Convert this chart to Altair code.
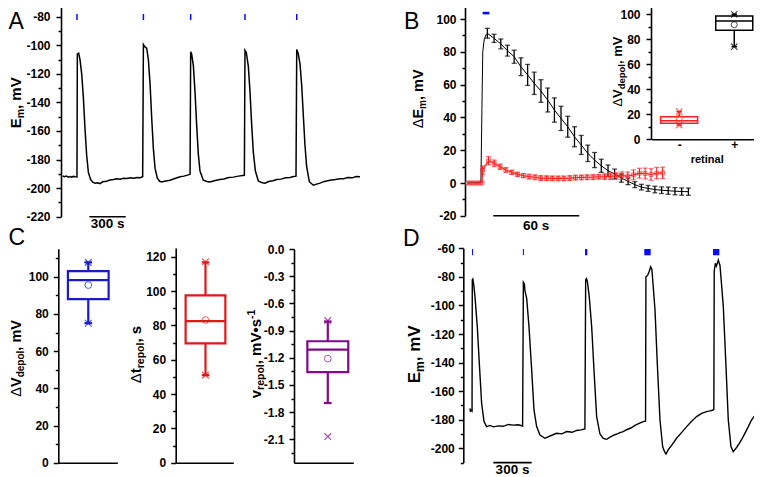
import altair as alt
import pandas as pd

W, H = 746, 469
FONT = "Liberation Sans"
STIM = "#0a0aff"
RED_B = "#ff2020"
BLUE_C = "#1a1ac8"
RED_C = "#dd1a1a"
PURPLE_C = "#800a8c"
XSHAPE = "M-1,-1L1,1M-1,1L1,-1"

# ---------------- data ----------------
# Panel A: membrane potential trace (time s, Em mV)
A_t = [0, 15, 30, 47, 62, 75, 88, 103, 118, 121,
       132, 143, 157, 171, 184, 198, 212, 231, 248, 267,
       287, 308, 330, 363, 390, 420, 446, 475, 500, 528,
       560, 590, 611, 640, 660, 666, 677, 693, 707, 721,
       734, 748, 762, 781, 800, 817, 850, 886, 920, 968,
       1000, 1030, 1051, 1056, 1064, 1078, 1092, 1105, 1119, 1133,
       1160, 1190, 1216, 1250, 1298, 1330, 1370, 1408, 1450, 1499,
       1504, 1515, 1532, 1545, 1559, 1573, 1590, 1614, 1640, 1669,
       1700, 1735, 1766, 1800, 1840, 1876, 1905, 1925, 1931, 1944,
       1958, 1972, 1986, 1999, 2013, 2035, 2068, 2095, 2123, 2160,
       2206, 2250, 2290, 2316, 2350, 2390, 2420, 2453]
A_v = [-191.5, -192.0, -191.6, -192.3, -191.9, -192.4, -191.8, -192.1, -192.2, -106.0,
       -105.5, -110, -120, -137, -158, -177, -189, -194, -195.8, -196.5,
       -196.2, -196.8, -195.6, -195.2, -194.3, -194.0, -193.5, -193.8, -193.1, -193.3,
       -192.8, -193.0, -192.5, -192.7, -192.0, -99.5, -101.0, -102.0, -110, -127,
       -150, -172, -186, -193, -195.2, -195.7, -195.0, -194.5, -193.4, -192.0,
       -191.6, -190.9, -190.3, -104.5, -106, -114, -133, -155, -176, -188,
       -194.5, -195.3, -195.7, -194.8, -194.0, -193.6, -192.6, -192.3, -191.6, -191.0,
       -103.5, -105, -115, -132, -155, -175, -188, -195, -196.0, -196.5,
       -195.4, -194.8, -194.0, -193.7, -192.8, -192.5, -191.9, -191.6, -103, -106,
       -113, -128, -150, -170, -185, -195.5, -198, -197.2, -196.5, -195.3,
       -194.5, -194.0, -193.4, -193.5, -192.6, -192.8, -191.9, -192.0]
A_stim = [118, 666, 1056, 1504, 1931]

# Panel B: mean dEm with error bars (time s, mV)
B_black_t = [0, 3, 6, 9.5, 10.2, 10.8, 11.8, 13.0,
             14.0, 18.7, 23.4, 28.0, 32.7, 37.4, 42.1, 46.7, 51.4, 56.1,
             60.8, 65.4, 70.1, 74.8, 79.5, 84.1, 88.8, 93.5, 98.2, 102.8,
             107.5, 112.2, 116.9, 121.5, 126.2, 130.9, 135.6, 140.2, 144.9, 149.6, 154.3]
B_black_v = [0, 0.2, 0.1, 0.3, 45, 80, 87.5, 90.3,
             91.3, 88.2, 84.8, 80.7, 77.0, 70.9, 65.9, 60.8, 56.1, 50.6,
             44.5, 39.4, 34.3, 28.2, 23.2, 18.1, 14.0, 10.5, 7.5, 5.5,
             3.0, 1.0, -1.0, -2.5, -3.3, -4.0, -4.4, -4.7, -5.0, -5.2, -5.3]
B_black_err = [0, 0, 0, 0, 0, 0, 0, 0,
               3.0, 2.5, 3.0, 3.3, 4.0, 5.4, 6.4, 6.8, 6.9, 7.3,
               7.4, 7.4, 6.4, 6.1, 5.8, 5.0, 4.6, 4.0, 3.5, 3.0,
               2.5, 2.0, 1.8, 1.7, 1.8, 2.0, 2.0, 2.2, 2.2, 2.2, 2.2]
B_red_t = [0, 1.5, 3, 4.5, 6, 7.5, 9, 10.3,
           10.7, 14.8, 18.8, 22.9, 26.9, 31.0, 35.0, 39.1, 43.1, 47.2,
           51.2, 55.3, 59.3, 63.4, 67.4, 71.5, 75.5, 79.6, 83.6, 87.7,
           91.7, 95.8, 99.8, 103.9, 107.9, 112.0, 116.0, 120.1, 124.1, 128.2,
           132.2, 136.3]
B_red_v = [0, 0, 0, 0, 0, 0, 0, 0,
           7.9, 13.6, 12.0, 9.9, 7.9, 6.5, 5.3, 4.5, 3.9, 3.5,
           3.0, 2.9, 2.8, 2.8, 2.8, 3.0, 3.3, 3.4, 3.5, 3.6,
           3.8, 3.9, 4.1, 4.3, 4.5, 4.2, 5.0, 6.0, 5.8, 5.2,
           6.0, 6.2]
B_red_err = [0, 0, 0, 0, 0, 0, 0, 0,
             2.5, 2.5, 2.0, 1.7, 1.5, 1.3, 1.3, 1.3, 1.5, 1.5,
             1.5, 1.5, 1.5, 1.5, 1.5, 1.5, 1.5, 1.5, 1.5, 1.5,
             1.5, 1.7, 2.0, 2.0, 2.3, 2.5, 3.0, 3.0, 3.3, 3.5,
             3.5, 3.5]
B_stim = [10.7, 15.4]

# Panel B inset: dV_depol box plots for retinal - / +
INSET_CAT = ["-", "+"]
INSET_Q1 = [12.8, 87.2]
INSET_Q3 = [18.1, 98.6]
INSET_MED = [14.9, 94.6]
INSET_MEAN = [16.8, 91.7]
INSET_LO = [11.4, 74.1]
INSET_HI = [22.1, 100.0]
INSET_X = [[11.4, 22.1], [74.1, 100.0]]

# Panel C: box plots  (dV_depol mV, dt_repol s, v_repol mV/s)
C_Q1 = [87.9, 69.5, -1.358]
C_Q3 = [103.0, 97.5, -1.018]
C_MED = [98.2, 82.5, -1.11]
C_MEAN = [95.5, 83.1, -1.21]
C_LO = [75.0, 51.0, -1.70]
C_HI = [107.7, 116.7, -0.80]
C_X = [[75.0, 107.7], [51.0, 117.0], [-0.79, -2.07]]

# Panel D: trace (time s, Em mV)
D_t = [0, 3, 10, 16, 18, 22, 30, 39, 57, 73,
       91, 110, 130, 157, 183, 222, 261, 300, 339, 378,
       412, 418, 426, 431, 444, 462, 483, 501, 522, 548,
       587, 626, 679, 720, 757, 800, 835, 870, 900, 906,
       912, 919, 934, 953, 971, 992, 1018, 1044, 1070, 1100,
       1122, 1150, 1175, 1200, 1227, 1260, 1292, 1325, 1357, 1375,
       1378, 1391, 1404, 1415, 1425, 1449, 1467, 1488, 1509, 1522,
       1535, 1553, 1579, 1618, 1657, 1697, 1736, 1775, 1814, 1853,
       1880, 1905, 1910, 1913, 1922, 1930, 1945, 1958, 1970, 1984,
       2004, 2023, 2044, 2062, 2083, 2101, 2127, 2153, 2179, 2205,
       2239, 2271]
D_v = [-172, -174, -173.5, -174, -82, -81.5, -86, -93.8, -114.8, -140.5,
       -168.5, -181.3, -184.8, -184, -185, -184.3, -184.6, -183.3, -183.8, -183.5,
       -184.4, -83.8, -85, -90, -95, -114.8, -145, -173, -184.8, -190.7,
       -193, -191.4, -189.5, -189.9, -188.3, -188.8, -187.5, -187.1, -186.5, -82.2,
       -81.3, -83, -93.8, -114.8, -145, -177.8, -190, -193, -193.7, -192,
       -191, -190, -189, -188.3, -187, -185.8, -184, -182.6, -181.3, -181,
       -80, -79, -76, -72.9, -75, -103, -140.5, -180, -198.8, -202,
       -204, -201, -198, -193, -189, -184.8, -181, -177.8, -175.5, -174.3,
       -173.8, -173.2, -172.6, -76, -70.5, -72.5, -68.2, -72, -85, -100.8,
       -140.5, -180, -198.8, -202.3, -200, -197.7, -194, -189.5, -185, -180.2,
       -176, -173.2]
D_stim_start = [16, 414, 901, 1365, 1903]
D_stim_end = [24, 422, 919, 1415, 1953]

# ---------------- helpers ----------------
def sx(d0, d1, p0, v0, ppu):
    return alt.Scale(domain=[d0, d1], range=[p0 + (d0 - v0) * ppu, p0 + (d1 - v0) * ppu],
                     nice=False, zero=False)


def sy(d0, d1, p0, v0, ppu):
    return alt.Scale(domain=[d0, d1], range=[p0 - (d0 - v0) * ppu, p0 - (d1 - v0) * ppu],
                     nice=False, zero=False)


def X(f, s):
    return alt.X(f + ":Q", scale=s, axis=None)


def Y(f, s):
    return alt.Y(f + ":Q", scale=s, axis=None)


def yaxis(scale, xpx, major, minor, pad=5, expr="'' + datum.value"):
    d = pd.DataFrame({"v": [major[0]]})
    common = dict(orient="left", offset=-xpx, title=None, grid=False, tickColor="black",
                  tickWidth=1.5)
    maj = alt.Chart(d).mark_point(opacity=0).encode(
        y=alt.Y("v:Q", scale=scale, axis=alt.Axis(
            values=major, labelExpr=expr, tickSize=5, domainColor="black", domainWidth=1.6,
            labelFont=FONT, labelFontWeight="bold", labelFontSize=12, labelColor="black",
            labelPadding=pad, labelOverlap=False, labelFlush=False, **common)))
    mnr = alt.Chart(d).mark_point(opacity=0).encode(
        y=alt.Y("v:Q", scale=scale, axis=alt.Axis(
            values=minor, labels=False, domain=False, tickSize=3, **common)))
    return [maj, mnr]


def xline(scale, ypx):
    d = pd.DataFrame({"u": [0.5]})
    return alt.Chart(d).mark_point(opacity=0).encode(
        x=alt.X("u:Q", scale=scale, axis=alt.Axis(
            orient="bottom", offset=ypx - H, ticks=False, labels=False, title=None, grid=False,
            domainColor="black", domainWidth=1.6)))


def box(xs, ys, cx, hw, capw, q1, q3, med, mean, lo, hi, xmarks, color, sw, msx, msc):
    d = pd.DataFrame({"x0": [cx - hw], "x1": [cx + hw], "cx": [cx], "c0": [cx - capw],
                      "c1": [cx + capw], "q1": [q1], "q3": [q3], "med": [med], "mean": [mean],
                      "lo": [lo], "hi": [hi]})
    b = alt.Chart(d)
    out = [
        b.mark_rect(fill="transparent", stroke=color, strokeWidth=sw).encode(
            x=X("x0", xs), x2="x1", y=Y("q1", ys), y2="q3"),
        b.mark_rule(color=color, strokeWidth=sw).encode(x=X("x0", xs), x2="x1", y=Y("med", ys)),
        b.mark_rule(color=color, strokeWidth=sw).encode(x=X("cx", xs), y=Y("q3", ys), y2="hi"),
        b.mark_rule(color=color, strokeWidth=sw).encode(x=X("cx", xs), y=Y("lo", ys), y2="q1"),
        b.mark_rule(color=color, strokeWidth=sw).encode(x=X("c0", xs), x2="c1", y=Y("hi", ys)),
        b.mark_rule(color=color, strokeWidth=sw).encode(x=X("c0", xs), x2="c1", y=Y("lo", ys)),
        b.mark_point(shape="circle", filled=False, color=color, size=msc, strokeWidth=1).encode(
            x=X("cx", xs), y=Y("mean", ys)),
    ]
    dx = pd.DataFrame({"cx": [cx] * len(xmarks), "v": xmarks})
    out.append(alt.Chart(dx).mark_point(shape=XSHAPE, filled=False, color=color, size=msx,
                                        strokeWidth=1.2).encode(x=X("cx", xs), y=Y("v", ys)))
    return out


def scalebar(xs, ys, t0, t1, yv, label, ybase):
    d = pd.DataFrame({"a": [t0], "b": [t1], "y": [yv], "m": [(t0 + t1) / 2], "lab": [label]})
    return [
        alt.Chart(d).mark_rule(color="black", strokeWidth=1.6).encode(
            x=X("a", xs), x2="b", y=Y("y", ys)),
        alt.Chart(d).mark_text(font=FONT, fontWeight="bold", fontSize=13.5, align="center",
                               baseline="alphabetic", color="black").encode(
            x=X("m", xs), y=alt.value(ybase), text="lab:N"),
    ]


CW_B = {"E": .667, "m": .889, ",": .278, " ": .278, "V": .667, "d": .611, "e": .556, "p": .611,
        "o": .611, "l": .278, "t": .333, "r": .389, "s": .556, "v": .556, "\u2022": .35, "-": .333,
        "1": .556}
CW_R = {"\u0394": .668}


def rot_title(xb, ys, pieces):
    rows = []
    y = ys
    for text, size, weight, shift in pieces:
        tbl = CW_B if weight == "bold" else CW_R
        rows.append({"x": xb + shift, "y": y, "t": text, "s": size, "w": weight})
        y -= sum(tbl.get(c, .56) for c in text) * size
    return rows


layers = []

# ---------------- Panel A ----------------
AX = sx(0, 2453, 54.67, 0, 1 / 8.25)
AY = sy(-220, -72, 208.7, -220, 1.4286)
layers += yaxis(AY, 53, [-220, -200, -180, -160, -140, -120, -100, -80],
                [-210, -190, -170, -150, -130, -110, -90], pad=6)
dA = pd.DataFrame({"t": A_t, "v": A_v})
layers.append(alt.Chart(dA).mark_line(color="black", strokeWidth=1.5).encode(
    x=X("t", AX), y=Y("v", AY), order="t:Q"))
dAs = pd.DataFrame({"t": A_stim, "a": [-78.1] * 5, "b": [-82.3] * 5})
layers.append(alt.Chart(dAs).mark_rule(color=STIM, strokeWidth=1.5).encode(
    x=X("t", AX), y=Y("a", AY), y2="b"))
layers += scalebar(AX, AY, 220, 520, -220, "300 s", 220.3)

# ---------------- Panel B ----------------
BX = sx(-2, 200, 459.3, 0, 1.433)
BY = sy(-20, 110, 175, 0, 1.64)
layers += yaxis(BY, 457, [-20, 0, 20, 40, 60, 80, 100], [-10, 10, 30, 50, 70, 90], pad=4)
dBk = pd.DataFrame({"t": B_black_t, "v": B_black_v, "e": B_black_err})
dBk["lo"] = dBk["v"] - dBk["e"]
dBk["hi"] = dBk["v"] + dBk["e"]
dBke = dBk[dBk["e"] > 0]
layers.append(alt.Chart(dBk).mark_line(color="black", strokeWidth=1).encode(
    x=X("t", BX), y=Y("v", BY), order="t:Q"))
layers.append(alt.Chart(dBke).mark_rule(color="black", strokeWidth=1.3).encode(
    x=X("t", BX), y=Y("lo", BY), y2="hi"))
for f in ["lo", "hi"]:
    layers.append(alt.Chart(dBke).mark_tick(orient="horizontal", size=5, thickness=1.3,
                                           color="black").encode(x=X("t", BX), y=Y(f, BY)))
dBr = pd.DataFrame({"t": B_red_t, "v": B_red_v, "e": B_red_err})
dBr["lo"] = dBr["v"] - dBr["e"]
dBr["hi"] = dBr["v"] + dBr["e"]
dBre = dBr[dBr["e"] > 0]
layers.append(alt.Chart(dBr).mark_line(color=RED_B, strokeWidth=1.2).encode(
    x=X("t", BX), y=Y("v", BY), order="t:Q"))
layers.append(alt.Chart(dBre).mark_rule(color=RED_B, strokeWidth=1.1).encode(
    x=X("t", BX), y=Y("lo", BY), y2="hi"))
for f in ["lo", "hi"]:
    layers.append(alt.Chart(dBre).mark_tick(orient="horizontal", size=5, thickness=1.1,
                                           color=RED_B).encode(x=X("t", BX), y=Y(f, BY)))
layers.append(alt.Chart(dBr).mark_point(shape="square", filled=False, size=14, color=RED_B,
                                        strokeWidth=1).encode(x=X("t", BX), y=Y("v", BY)))
dBs = pd.DataFrame({"a": [B_stim[0]], "b": [B_stim[1]], "y": [103.6]})
layers.append(alt.Chart(dBs).mark_rule(color=STIM, strokeWidth=2.6).encode(
    x=X("a", BX), x2="b", y=Y("y", BY)))
layers += scalebar(BX, BY, 18.1, 78.1, -20, "60 s", 222)

# inset
IX = alt.Scale(domain=[0, 2], range=[643.6, 753.8], nice=False, zero=False)
IY = sy(0, 110, 131.3, 0, 1.25)
layers += yaxis(IY, 643, [0, 20, 40, 60, 80, 100], [10, 30, 50, 70, 90], pad=6)
layers.append(alt.Chart(pd.DataFrame({"u": [0.5]})).mark_point(opacity=0).encode(
    x=alt.X("u:Q", scale=IX, axis=alt.Axis(
        orient="bottom", offset=131.3 - H, values=[0.5, 1.5],
        labelExpr="datum.value < 1 ? '" + INSET_CAT[0] + "' : '" + INSET_CAT[1] + "'",
        ticks=False, grid=False, domainColor="black", domainWidth=1.6, labelFont=FONT,
        labelFontWeight="bold", labelFontSize=12, labelColor="black", labelPadding=0,
        labelFlush=False, title="retinal", titleFont=FONT, titleFontWeight="bold",
        titleFontSize=11, titleColor="black", titlePadding=3))))
for i, col in enumerate(["#ff2020", "black"]):
    layers += box(IX, IY, 0.5 + i, 0.336, 0.05, INSET_Q1[i], INSET_Q3[i], INSET_MED[i],
                  INSET_MEAN[i], INSET_LO[i], INSET_HI[i], INSET_X[i], col, 1.5, 40, 36)

# ---------------- Panel C ----------------
C1X = alt.Scale(domain=[0, 1], range=[50.3, 109.3], nice=False, zero=False)
C1Y = sy(0, 115, 454.7, 0, 1.86)
C2X = alt.Scale(domain=[0, 1], range=[167.7, 225.3], nice=False, zero=False)
C2Y = sy(0, 125, 454.7, 0, 1.7167)
C3X = alt.Scale(domain=[0, 1], range=[286, 345.3], nice=False, zero=False)
C3Y = sy(-2.36, 0, 241, 0, 90.62)
layers += yaxis(C1Y, 50.3, [0, 20, 40, 60, 80, 100], [10, 30, 50, 70, 90, 110])
layers += yaxis(C2Y, 167.7, [0, 20, 40, 60, 80, 100, 120], [10, 30, 50, 70, 90, 110])
layers += yaxis(C3Y, 286, [0.0, -0.3, -0.6, -0.9, -1.2, -1.5, -1.8, -2.1],
                [-0.15, -0.45, -0.75, -1.05, -1.35, -1.65, -1.95, -2.25],
                expr="datum.value == 0 ? '0.0' : '' + datum.value")
layers += [xline(C1X, 454.7), xline(C2X, 454.7), xline(C3X, 454.7)]
CPOS = [(C1X, C1Y, 0.508), (C2X, C2Y, 0.517), (C3X, C3Y, 0.57)]
CCOL = [BLUE_C, RED_C, PURPLE_C]
for i in range(3):
    xs, ys, cx = CPOS[i]
    layers += box(xs, ys, cx, 0.345, 0.065, C_Q1[i], C_Q3[i], C_MED[i], C_MEAN[i], C_LO[i],
                  C_HI[i], C_X[i], CCOL[i], 2.2, 45, 45)

# ---------------- Panel D ----------------
DX = sx(-52, 2290, 462, 0, 0.12767)
DY = sy(-210, -60, 240.3, -60, 1.4286)
layers += yaxis(DY, 455.3, [-200, -180, -160, -140, -120, -100, -80, -60],
                [-210, -190, -170, -150, -130, -110, -90, -70], pad=4)
dD = pd.DataFrame({"t": D_t, "v": D_v})
layers.append(alt.Chart(dD).mark_line(color="black", strokeWidth=1.4).encode(
    x=X("t", DX), y=Y("v", DY), order="t:Q"))
dDs = pd.DataFrame({"a": D_stim_start, "b": D_stim_end, "y0": [-60.5] * 5, "y1": [-64.9] * 5})
layers.append(alt.Chart(dDs).mark_rect(color=STIM).encode(
    x=X("a", DX), x2="b", y=Y("y0", DY), y2="y1"))
layers += scalebar(DX, DY, 183, 483, -210, "300 s", 466.2)

# ---------------- titles & panel letters ----------------
rows = []
rows += rot_title(12.8, 120.3, [("E", 15, "bold", 0), ("m", 10.5, "bold", 3), (", mV", 15, "bold", 0)])
rows += rot_title(415, 120.3, [("\u0394", 14.5, "normal", 0), ("E", 14.5, "bold", 0),
                               ("m", 10, "bold", 3), (", mV", 14.5, "bold", 0)])
rows += rot_title(614, 98.7, [("\u0394", 13, "normal", 0), ("V", 13, "bold", 0),
                              ("depol", 9.5, "bold", 2.6), (", mV", 13, "bold", 0)])
rows += rot_title(12.5, 388.7, [("\u0394", 14.5, "normal", 0), ("V", 14.5, "bold", 0),
                                ("depol", 10, "bold", 3), (", mV", 14.5, "bold", 0)])
rows += rot_title(133, 375.3, [("\u0394", 15, "normal", 0), ("t", 15, "bold", 0),
                               ("repol", 10.5, "bold", 3), (", s", 15, "bold", 0)])
rows += rot_title(253, 390.3, [("v", 15, "bold", 0), ("repol", 10.5, "bold", 3),
                               (", mV\u2022s", 15, "bold", 0), ("-1", 10.5, "bold", -6)])
rows += rot_title(412, 375.3, [("E", 17, "bold", 0), ("m", 12, "bold", 3.5), (", mV", 17, "bold", 0)])
dT = pd.DataFrame(rows)
for w in ["bold", "normal"]:
    sub = dT[dT["w"] == w]
    layers.append(alt.Chart(sub).mark_text(angle=270, align="left", baseline="alphabetic",
                                           font=FONT, fontWeight=w, color="black").encode(
        x=alt.X("x:Q", scale=None, axis=None), y=alt.Y("y:Q", scale=None, axis=None),
        text="t:N", size=alt.Size("s:Q", scale=None, legend=None)))

dL = pd.DataFrame({"x": [0.5, 396, 0.5, 395], "y": [20.5, 20.5, 237, 238], "t": ["A", "B", "C", "D"]})
layers.append(alt.Chart(dL).mark_text(font=FONT, fontSize=23, align="left", baseline="alphabetic",
                                      color="black").encode(
    x=alt.X("x:Q", scale=None, axis=None), y=alt.Y("y:Q", scale=None, axis=None), text="t:N"))

chart = alt.layer(*layers).resolve_scale(x="independent", y="independent").properties(
    width=W, height=H, padding=0, autosize=alt.AutoSizeParams(type="none")
).configure_view(stroke=None).configure_axis(grid=False)

chart.save("out.html", embed_options={"renderer": "svg", "actions": False})
